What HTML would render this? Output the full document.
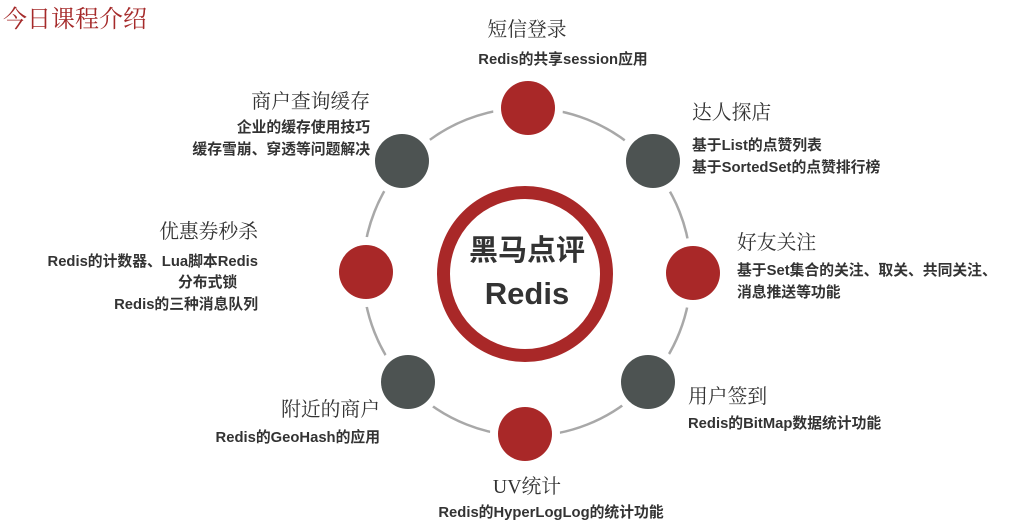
<!DOCTYPE html>
<html><head><meta charset="utf-8"><style>
body{margin:0;width:1027px;height:523px;background:#fff;position:relative;overflow:hidden}
.t{position:absolute;font-family:"Liberation Serif","Noto Serif CJK SC",serif;font-size:19.8px;color:#333;white-space:nowrap;line-height:24px}
.s{position:absolute;font-family:"Liberation Sans","Noto Sans CJK SC",sans-serif;font-size:14.8px;font-weight:bold;color:#333;white-space:nowrap;line-height:22px}
.r{text-align:right}
.c{text-align:center}
</style></head><body>
<svg width="1027" height="523" style="position:absolute;left:0;top:0">
<circle cx="527" cy="272" r="164" fill="none" stroke="#a8a8a8" stroke-width="2.5"/>
<g stroke="#fff" stroke-width="12">
<circle cx="528" cy="108" r="29" fill="#a92828"/>
<circle cx="402" cy="161" r="29" fill="#4d5352"/>
<circle cx="653" cy="161" r="29" fill="#4d5352"/>
<circle cx="366" cy="272" r="29" fill="#a92828"/>
<circle cx="693" cy="273" r="29" fill="#a92828"/>
<circle cx="408" cy="382" r="29" fill="#4d5352"/>
<circle cx="648" cy="382" r="29" fill="#4d5352"/>
<circle cx="525" cy="434" r="29" fill="#a92828"/>
</g>
<g fill="#a92828">
<circle cx="528" cy="108" r="27"/><circle cx="366" cy="272" r="27"/><circle cx="693" cy="273" r="27"/><circle cx="525" cy="434" r="27"/>
</g>
<g fill="#4d5352">
<circle cx="402" cy="161" r="27"/><circle cx="653" cy="161" r="27"/><circle cx="408" cy="382" r="27"/><circle cx="648" cy="382" r="27"/>
</g>
<circle cx="525" cy="274" r="81.5" fill="#fff" stroke="#a92828" stroke-width="13"/>
<text x="527" y="260" text-anchor="middle" font-family="Liberation Sans,Noto Sans CJK SC,sans-serif" font-size="29" font-weight="bold" fill="#333">黑马点评</text>
<text x="527" y="304" text-anchor="middle" font-family="Liberation Sans,Noto Sans CJK SC,sans-serif" font-size="31" font-weight="bold" fill="#333">Redis</text>
</svg>
<div class="t" style="left:3px;top:6px;font-size:24px;line-height:28px;color:#a52a2a">今日课程介绍</div>

<div class="t c" style="left:427px;width:200px;top:18px">短信登录</div>
<div class="s c" style="left:448px;width:230px;top:49px">Redis的共享session应用</div>

<div class="t r" style="right:657px;top:90px">商户查询缓存</div>
<div class="s r" style="right:657px;top:117px">企业的缓存使用技巧<br>缓存雪崩、穿透等问题解决</div>

<div class="t" style="left:692px;top:101px">达人探店</div>
<div class="s" style="left:692px;top:135px">基于List的点赞列表<br>基于SortedSet的点赞排行榜</div>

<div class="t r" style="right:769px;top:220px">优惠券秒杀</div>
<div class="s r" style="right:769px;top:251px">Redis的计数器、Lua脚本Redis</div>
<div class="s" style="left:178px;top:272px">分布式锁</div>
<div class="s r" style="right:769px;top:294px">Redis的三种消息队列</div>

<div class="t" style="left:737px;top:231px">好友关注</div>
<div class="s" style="left:737px;top:260px">基于Set集合的关注、取关、共同关注、<br>消息推送等功能</div>

<div class="t r" style="right:647px;top:398px">附近的商户</div>
<div class="s r" style="right:647px;top:427px">Redis的GeoHash的应用</div>

<div class="t" style="left:688px;top:385px">用户签到</div>
<div class="s" style="left:688px;top:413px">Redis的BitMap数据统计功能</div>

<div class="t c" style="left:427px;width:200px;top:475px">UV统计</div>
<div class="s c" style="left:401px;width:300px;top:502px">Redis的HyperLogLog的统计功能</div>
</body></html>
